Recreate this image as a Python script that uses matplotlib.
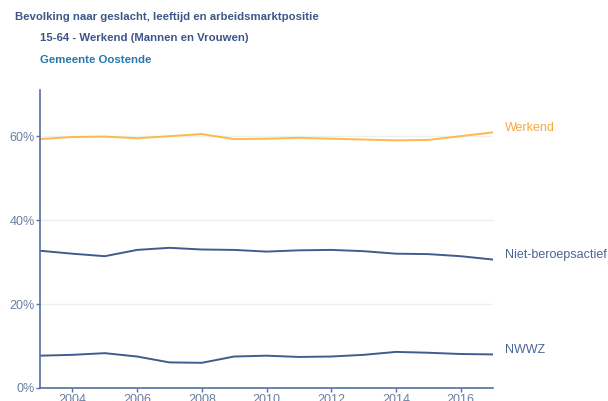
import matplotlib
matplotlib.use("Agg")
import matplotlib.pyplot as plt
from matplotlib.ticker import FuncFormatter

years = list(range(2003, 2018))
werkend = [59.3, 59.8, 59.9, 59.5, 60.0, 60.5, 59.3, 59.4, 59.6, 59.4, 59.2, 59.0, 59.1, 60.0, 60.9]
niet_beroepsactief = [32.7, 32.0, 31.4, 32.9, 33.4, 33.0, 32.9, 32.5, 32.8, 32.9, 32.6, 32.0, 31.9, 31.4, 30.6]
nwwz = [7.7, 7.9, 8.3, 7.5, 6.1, 6.0, 7.5, 7.7, 7.4, 7.5, 7.9, 8.6, 8.4, 8.1, 8.0]

series = [
    ("Werkend", werkend, "#fdb84e", "#f9a83a"),
    ("Niet-beroepsactief", niet_beroepsactief, "#3e5c8e", "#4a6694"),
    ("NWWZ", nwwz, "#3e5c8e", "#4a6694"),
]

plt.rcParams['font.family'] = ['Liberation Sans', 'DejaVu Sans']

fig = plt.figure(figsize=(6.08, 4.01), dpi=100)
ax = fig.add_axes([40/608, 1-388/401, (493-40)/608, (388-90)/401])

for name, vals, lc, tc in series:
    ax.plot(years, vals, color=lc, lw=1.4)
    ax.annotate(name, xy=(years[-1], vals[-1]), xytext=(8.5, 3), textcoords='offset points',
                va='center', ha='left', color=tc, fontsize=9, annotation_clip=False)

ax.set_xlim(2003, 2017)
ax.set_ylim(0, 71)
ax.set_yticks([0, 20, 40, 60])
ax.yaxis.set_major_formatter(FuncFormatter(lambda v, p: f"{v:.0f}%"))
ax.set_xticks([2004, 2006, 2008, 2010, 2012, 2014, 2016])
ax.grid(axis='y', color='#efefef', lw=1)
ax.set_axisbelow(True)

axis_col = '#5470a0'
for s in ['top', 'right']:
    ax.spines[s].set_visible(False)
for s in ['left', 'bottom']:
    ax.spines[s].set_color(axis_col)
    ax.spines[s].set_linewidth(1.2)
ax.tick_params(colors=axis_col, labelcolor='#6a7fa3', labelsize=9, length=3, width=1)
ax.tick_params(axis='x', pad=1)
ax.tick_params(axis='y', pad=1)

fig.text(15/608, 1-17/401, "Bevolking naar geslacht, leeftijd en arbeidsmarktpositie",
         fontsize=8.2, fontweight='bold', color='#3c5688', va='center')
fig.text(40/608, 1-38/401, "15-64 - Werkend (Mannen en Vrouwen)",
         fontsize=8.2, fontweight='bold', color='#3c5688', va='center')
fig.text(40/608, 1-60/401, "Gemeente Oostende",
         fontsize=8.2, fontweight='bold', color='#2478ae', va='center')

plt.savefig("out.png", dpi=100)
